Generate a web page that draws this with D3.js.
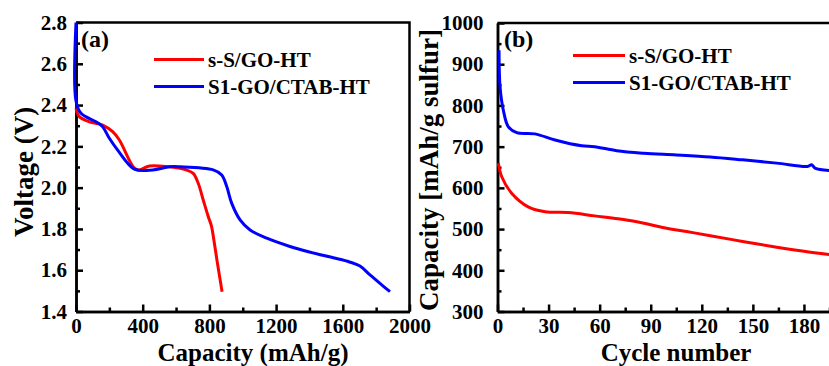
<!DOCTYPE html>
<html>
<head>
<meta charset="utf-8">
<script src="https://cdn.jsdelivr.net/npm/d3@7"></script>
<style>
  body { margin: 0; background: #fff; }
  svg { display: block; }
  text { font-family: "Liberation Serif", "Times New Roman", serif; font-weight: bold; fill: #000; }
</style>
</head>
<body>
<svg id="chart" width="829" height="366"></svg>
<script>
// (a) discharge curves: [capacity mAh/g, voltage V]
var curveRedA = [[0,2.384],[20,2.344],[80,2.319],[160,2.303],[220,2.271],[260,2.231],[350,2.094],
  [380,2.086],[440,2.105],[560,2.101],[624,2.094],[660,2.086],[703,2.069],[733,2.021],[763,1.94],
  [793,1.86],[812,1.815],[828,1.74],[845,1.65],[860,1.575],[876,1.496]];
var curveBlueA = [[0,2.8],[0,2.42],[30,2.36],[120,2.319],[160,2.295],[200,2.239],[250,2.182],
  [350,2.09],[460,2.086],[560,2.101],[624,2.101],[823,2.086],[874,2.061],[904,2.005],[934,1.924],
  [984,1.844],[1044,1.795],[1144,1.755],[1283,1.715],[1400,1.688],[1543,1.66],[1640,1.64],[1703,1.62],
  [1763,1.577],[1823,1.536],[1883,1.496]];

// (b) cycling: [cycle, capacity mAh/g sulfur]
var curveRedB = [[0.5,660],[2.5,627],[8.3,587],[18,554],[28,542],[41.6,540],[57,532],[74,523],
  [86,514],[97,504],[111,494],[125,484],[144,470],[164,456],[180,446],[195,438]];
var curveBlueB = [[0.9,934],[1.5,845],[3.4,789],[6.4,748],[11.3,734],[22,731],[33.8,716],[49.4,702],
  [57,700],[70,690],[86,684],[105,680],[125,675],[144,668],[164,660],[182,652],[184.5,656],
  [186.5,648],[195,642]];

var seriesNames = ["s-S/GO-HT", "S1-GO/CTAB-HT"];
var seriesColors = ["#ff0000", "#0000ff"];

var xTicksA = [0, 400, 800, 1200, 1600, 2000];
var yTicksA = [1.4, 1.6, 1.8, 2.0, 2.2, 2.4, 2.6, 2.8];
var xTicksB = [0, 30, 60, 90, 120, 150, 180];
var yTicksB = [300, 400, 500, 600, 700, 800, 900, 1000];

var svg = d3.select("#chart");

function panel(opt) {
  var x = opt.x, y = opt.y;
  var g = svg.append("g");

  // minor ticks
  g.append("g").attr("transform", "translate(0," + y.range()[0] + ")")
    .call(d3.axisBottom(x).tickValues(opt.xMinor).tickSize(-4).tickSizeOuter(0).tickFormat(""));
  g.append("g").attr("transform", "translate(" + x.range()[0] + ",0)")
    .call(d3.axisLeft(y).tickValues(opt.yMinor).tickSize(-4).tickSizeOuter(0).tickFormat(""));

  g.append("g").attr("transform", "translate(0," + y.range()[0] + ")")
    .call(d3.axisBottom(x).tickValues(opt.xTicks).tickSize(-7).tickSizeOuter(0).tickPadding(7)
      .tickFormat(opt.xFmt));
  g.append("g").attr("transform", "translate(" + x.range()[0] + ",0)")
    .call(d3.axisLeft(y).tickValues(opt.yTicks).tickSize(-7).tickSizeOuter(0).tickPadding(opt.yPad)
      .tickFormat(opt.yFmt));

  g.selectAll(".domain, .tick line").attr("stroke", "#000").attr("stroke-width", 2.5);
  g.selectAll(".tick text").style("font-size", "21px")
    .style("font-family", "'Liberation Serif', serif").style("font-weight", "bold");

  // frame top / right
  g.append("path")
    .attr("d", "M" + x.range()[0] + "," + y.range()[1] + "H" + x.range()[1] + "V" + y.range()[0])
    .attr("fill", "none").attr("stroke", "#000").attr("stroke-width", 2.5);

  var line = d3.line().x(function(d) { return x(d[0]); }).y(function(d) { return y(d[1]); })
    .curve(d3.curveCatmullRom.alpha(0.5));

  opt.curves.forEach(function(c, i) {
    g.append("path").datum(c).attr("d", line)
      .attr("fill", "none").attr("stroke", seriesColors[i]).attr("stroke-width", 3)
      .attr("stroke-linejoin", "round");
  });

  // legend
  seriesNames.forEach(function(name, i) {
    var ly = opt.legY[i];
    g.append("line").attr("x1", opt.legX[0]).attr("x2", opt.legX[1])
      .attr("y1", ly).attr("y2", ly).attr("stroke", seriesColors[i]).attr("stroke-width", 3);
    g.append("text").attr("x", opt.legX[1] + 4).attr("y", ly + 7.5)
      .style("font-size", "21px").text(name);
  });

  g.append("text").attr("x", opt.tag[0]).attr("y", opt.tag[1]).style("font-size", "24px").text(opt.tagText);

  g.append("text").attr("x", opt.xTitle[0]).attr("y", opt.xTitle[1]).attr("text-anchor", "middle")
    .style("font-size", "25px").text(opt.xLabel);
  g.append("text").attr("transform", "translate(" + opt.yTitle[0] + "," + opt.yTitle[1] + ") rotate(-90)")
    .attr("text-anchor", "middle").style("font-size", "27px").text(opt.yLabel);
}

var xA = d3.scaleLinear().domain([0, 2000]).range([76, 409.5]);
var yA = d3.scaleLinear().domain([1.4, 2.8]).range([311.5, 22.5]);
panel({
  x: xA, y: yA,
  xTicks: xTicksA, yTicks: yTicksA,
  xMinor: d3.range(200, 2000, 400), yMinor: d3.range(1.5, 2.8, 0.2),
  xFmt: d3.format("d"), yFmt: d3.format(".1f"), yPad: 9,
  curves: [curveRedA, curveBlueA],
  legX: [154, 204], legY: [59.5, 86.5],
  tag: [81, 47], tagText: "(a)",
  xLabel: "Capacity (mAh/g)", xTitle: [253, 360.5],
  yLabel: "Voltage (V)", yTitle: [33, 172]
});

var xB = d3.scaleLinear().domain([0, 200]).range([497.5, 838]);
var yB = d3.scaleLinear().domain([300, 1000]).range([311.5, 23]);
panel({
  x: xB, y: yB,
  xTicks: xTicksB, yTicks: yTicksB,
  xMinor: d3.range(15, 200, 30), yMinor: d3.range(350, 1000, 100),
  xFmt: d3.format("d"), yFmt: d3.format("d"), yPad: 14,
  curves: [curveRedB, curveBlueB],
  legX: [573, 625], legY: [55.5, 82.5],
  tag: [504, 47], tagText: "(b)",
  xLabel: "Cycle number", xTitle: [676, 360.5],
  yLabel: "Capacity [mAh/g sulfur]", yTitle: [438, 170]
});
</script>
</body>
</html>
